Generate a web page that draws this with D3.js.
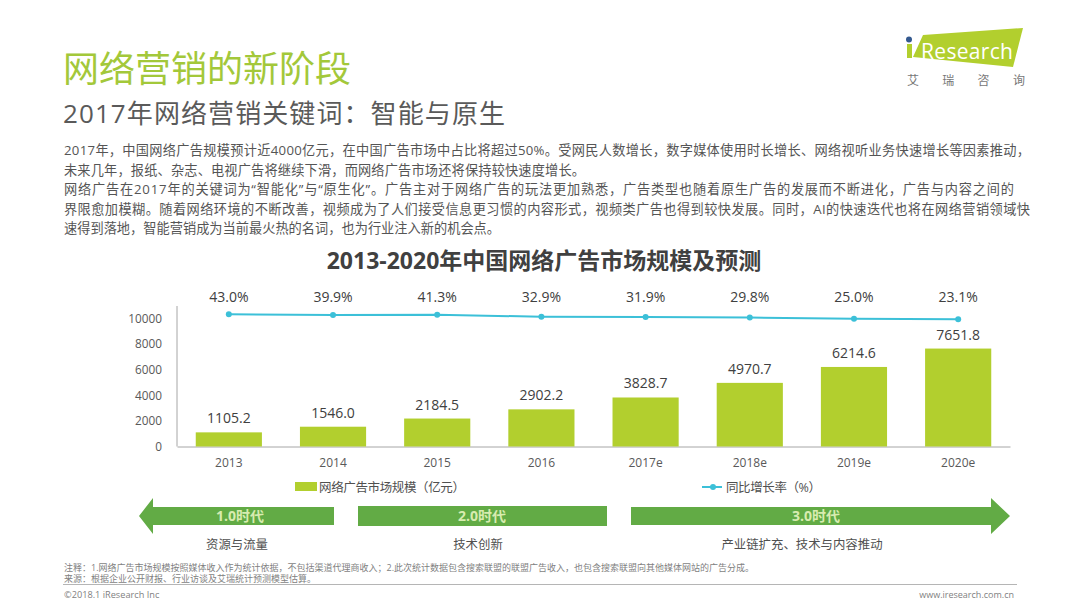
<!DOCTYPE html>
<html>
<head>
<meta charset="utf-8">
<script src="https://cdnjs.cloudflare.com/ajax/libs/d3/7.8.5/d3.min.js"></script>
<style>
  html, body { margin: 0; padding: 0; background: #fff; }
  svg text { font-family: "Open Sans", "Noto Sans CJK SC", sans-serif; }
</style>
</head>
<body>
<svg id="slide" width="1080" height="608"></svg>
<script>
// Chart data
const years = ["2013", "2014", "2015", "2016", "2017e", "2018e", "2019e", "2020e"];
const marketSize = [1105.2, 1546.0, 2184.5, 2902.2, 3828.7, 4970.7, 6214.6, 7651.8];
const growthRate = [43.0, 39.9, 41.3, 32.9, 31.9, 29.8, 25.0, 23.1];
const yTicks = [0, 2000, 4000, 6000, 8000, 10000];

const bodyLines = [
  "2017年，中国网络广告规模预计近4000亿元，在中国广告市场中占比将超过50%。受网民人数增长，数字媒体使用时长增长、网络视听业务快速增长等因素推动，",
  "未来几年，报纸、杂志、电视广告将继续下滑，而网络广告市场还将保持较快速度增长。",
  "网络广告在2017年的关键词为“智能化”与“原生化”。广告主对于网络广告的玩法更加熟悉，广告类型也随着原生广告的发展而不断进化，广告与内容之间的",
  "界限愈加模糊。随着网络环境的不断改善，视频成为了人们接受信息更习惯的内容形式，视频类广告也得到较快发展。同时，AI的快速迭代也将在网络营销领域快",
  "速得到落地，智能营销成为当前最火热的名词，也为行业注入新的机会点。"
];
const bodyWidths = [966, 521, 950, 966, 436];
const footNotes = [
  "注释：1.网络广告市场规模按照媒体收入作为统计依据，不包括渠道代理商收入；2.此次统计数据包含搜索联盟的联盟广告收入，也包含搜索联盟向其他媒体网站的广告分成。",
  "来源：根据企业公开财报、行业访谈及艾瑞统计预测模型估算。"
];
const eraNames = ["1.0时代", "2.0时代", "3.0时代"];
const eraDrivers = ["资源与流量", "技术创新", "产业链扩充、技术与内容推动"];

const svg = d3.select("#slide");
const green = "#b2cf2e";
const teal = "#3cc0d8";
const arrowGreen = "#62ab45";

function label(x, y, str, size, fill, anchor, weight) {
  return svg.append("text")
    .attr("x", x).attr("y", y)
    .attr("font-size", size)
    .attr("fill", fill)
    .attr("text-anchor", anchor || "start")
    .attr("font-weight", weight || 400)
    .text(str);
}

// Header
label(63, 82, "网络营销的新阶段", 36, "#a3c83a");
label(63, 123, "2017年网络营销关键词：智能与原生", 26, "#5a5a5a")
  .attr("textLength", 442);

bodyLines.forEach((line, i) => {
  label(64, 155 + i * 19.5, line, 13.2, "#555")
    .attr("textLength", bodyWidths[i])
    .attr("lengthAdjust", "spacing");
});

// Logo
svg.append("path")
  .attr("d", "M923 35 L1023 28 L1013 67 L913 57 Z")
  .attr("fill", green);
svg.append("circle").attr("cx", 909).attr("cy", 39.5).attr("r", 3).attr("fill", "#34598f");
svg.append("path").attr("d", "M907 44 L912 44 L912 58 L907 58 Z").attr("fill", green);
label(921, 59, "Research", 21, "#fff").attr("textLength", 92);
["艾", "瑞", "咨", "询"].forEach((c, i) => {
  label(913 + i * 35.3, 85, c, 12, "#777", "middle");
});

// Chart title
label(544, 269, "2013-2020年中国网络广告市场规模及预测", 23, "#404040", "middle", 700);

// Scales
const x = d3.scaleBand().domain(years).range([177, 1010]).paddingInner(0.365).paddingOuter(0.18);
const y = d3.scaleLinear().domain([0, 10000]).range([446.5, 318.5]);
const yRate = d3.scaleLinear().domain([0, 100]).range([325, 300]);

// Axes
const yAxis = svg.append("g")
  .attr("transform", "translate(177,0)")
  .call(d3.axisLeft(y).tickValues(yTicks).tickSize(0).tickPadding(15).tickFormat(d3.format("d")));
yAxis.select(".domain").attr("d", "M0,306V446.5").attr("stroke", "#a6a6a6");
yAxis.selectAll("text").attr("font-size", 11.8).attr("fill", "#595959");

const xAxis = svg.append("g")
  .attr("transform", "translate(0,446.5)")
  .call(d3.axisBottom(x).tickSize(0).tickPadding(12));
xAxis.select(".domain").attr("stroke", "#a6a6a6");
xAxis.selectAll("text").attr("font-size", 12).attr("fill", "#595959");

// Bars
svg.selectAll(".bar")
  .data(years)
  .join("rect")
  .attr("class", "bar")
  .attr("x", d => x(d))
  .attr("y", (d, i) => y(marketSize[i]))
  .attr("width", x.bandwidth())
  .attr("height", (d, i) => y(0) - y(marketSize[i]))
  .attr("fill", green);

svg.selectAll(".bar-label")
  .data(years)
  .join("text")
  .attr("class", "bar-label")
  .attr("x", d => x(d) + x.bandwidth() / 2)
  .attr("y", (d, i) => y(marketSize[i]) - 9)
  .attr("text-anchor", "middle")
  .attr("font-size", 14)
  .attr("fill", "#404040")
  .text((d, i) => marketSize[i].toFixed(1));

// Growth line
const line = d3.line()
  .x((d, i) => x(years[i]) + x.bandwidth() / 2)
  .y(d => yRate(d));

svg.append("path")
  .datum(growthRate)
  .attr("fill", "none")
  .attr("stroke", teal)
  .attr("stroke-width", 2)
  .attr("d", line);

svg.selectAll(".dot")
  .data(growthRate)
  .join("circle")
  .attr("class", "dot")
  .attr("cx", (d, i) => x(years[i]) + x.bandwidth() / 2)
  .attr("cy", d => yRate(d))
  .attr("r", 3)
  .attr("fill", teal);

svg.selectAll(".rate-label")
  .data(growthRate)
  .join("text")
  .attr("class", "rate-label")
  .attr("x", (d, i) => x(years[i]) + x.bandwidth() / 2)
  .attr("y", 302)
  .attr("text-anchor", "middle")
  .attr("font-size", 14)
  .attr("fill", "#404040")
  .text(d => d.toFixed(1) + "%");

// Legend
svg.append("rect").attr("x", 295).attr("y", 482).attr("width", 22).attr("height", 9).attr("fill", green);
label(319, 492, "网络广告市场规模（亿元）", 12.5, "#505050").attr("textLength", 146);
svg.append("line").attr("x1", 702).attr("x2", 722).attr("y1", 487).attr("y2", 487)
  .attr("stroke", teal).attr("stroke-width", 2);
svg.append("circle").attr("cx", 713).attr("cy", 487).attr("r", 3).attr("fill", teal);
label(726, 492, "同比增长率（%）", 12.5, "#505050").attr("textLength", 95);

// Era arrows
svg.append("path").attr("d", "M139 516 L153 498 L153 507 L334 507 L334 525 L153 525 L153 534 Z").attr("fill", arrowGreen);
svg.append("rect").attr("x", 358).attr("y", 506).attr("width", 249).attr("height", 20).attr("fill", arrowGreen);
svg.append("path").attr("d", "M631 507 L991 507 L991 498 L1010 516 L991 534 L991 525 L631 525 Z").attr("fill", arrowGreen);

const eraCenters = [240, 482, 816];
eraNames.forEach((d, i) => {
  label(eraCenters[i], 521, d, 14, "#d8ecb0", "middle", 700);
});
const driverCenters = [237, 478, 802];
eraDrivers.forEach((d, i) => {
  label(driverCenters[i], 549, d, 12.4, "#505050", "middle");
});

// Footer
footNotes.forEach((d, i) => {
  label(64, 571 + i * 11, d, 9, "#7f7f7f");
});
svg.append("line").attr("x1", 63).attr("x2", 1017).attr("y1", 584.5).attr("y2", 584.5)
  .attr("stroke", "#b5b5b5");
label(64, 598, "©2018.1 iResearch Inc", 9.2, "#7f7f7f");
label(1014, 598, "www.iresearch.com.cn", 9, "#7f7f7f", "end");
</script>
</body>
</html>
